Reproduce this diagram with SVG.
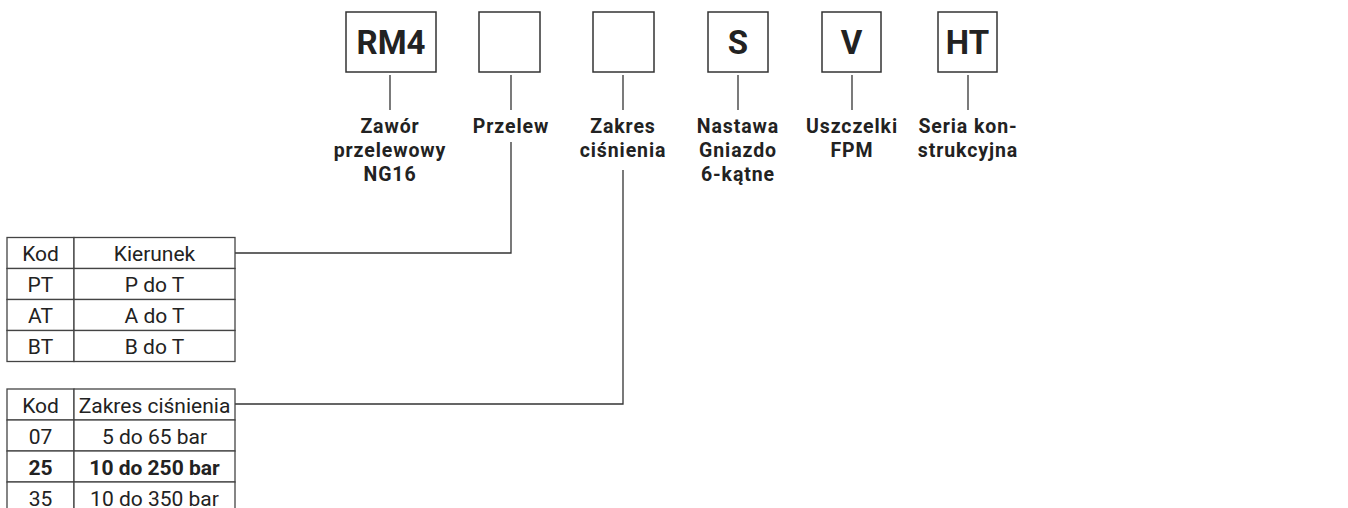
<svg xmlns="http://www.w3.org/2000/svg" width="1348" height="508" viewBox="0 0 1348 508">
<style>
.box{fill:#fff;stroke:#333;stroke-width:1.5}
.bt{font-family:Roboto,"Liberation Sans",sans-serif;font-weight:700;font-size:33px;fill:#222;text-anchor:middle}
.lb{font-family:Roboto,"Liberation Sans",sans-serif;font-weight:700;font-size:19.5px;letter-spacing:0.9px;fill:#222;text-anchor:middle}
.ln{fill:none;stroke:#333;stroke-width:1.3}
.tb{fill:#fff;stroke:#444;stroke-width:1.3}
.tt{font-family:Roboto,"Liberation Sans",sans-serif;font-size:21px;fill:#222;text-anchor:middle}
.tt.b{font-weight:700}
</style>
<rect width="1348" height="508" fill="#fff"/>
<g id="connectors">
<path class="ln" d="M390 75V110"/>
<path class="ln" d="M511 75V110"/>
<path class="ln" d="M623 75V110"/>
<path class="ln" d="M738 75V110"/>
<path class="ln" d="M852 75V110"/>
<path class="ln" d="M968 75V110"/>
<path class="ln" d="M511 142V253H235"/>
<path class="ln" d="M623 170V404H235"/>
</g>
<g id="n-rm4"><rect class="box" x="346" y="12" width="90" height="60"/><text class="bt" x="391" y="54">RM4</text></g>
<g id="n-przelew-box"><rect class="box" x="479" y="12" width="61" height="60"/></g>
<g id="n-zakres-box"><rect class="box" x="593" y="12" width="61" height="60"/></g>
<g id="n-s"><rect class="box" x="708" y="12" width="60" height="60"/><text class="bt" x="738" y="54">S</text></g>
<g id="n-v"><rect class="box" x="822" y="12" width="59" height="60"/><text class="bt" x="851.5" y="54">V</text></g>
<g id="n-ht"><rect class="box" x="938" y="12" width="59" height="60"/><text class="bt" x="967.5" y="54">HT</text></g>
<g id="l-zawor"><text class="lb" x="390" y="133">Zawór</text><text class="lb" x="390" y="157">przelewowy</text><text class="lb" x="390" y="181">NG16</text></g>
<g id="l-przelew"><text class="lb" x="511" y="133">Przelew</text></g>
<g id="l-zakres"><text class="lb" x="623" y="133">Zakres</text><text class="lb" x="623" y="157">ciśnienia</text></g>
<g id="l-nastawa"><text class="lb" x="738" y="133">Nastawa</text><text class="lb" x="738" y="157">Gniazdo</text><text class="lb" x="738" y="181">6-kątne</text></g>
<g id="l-uszczelki"><text class="lb" x="852" y="133">Uszczelki</text><text class="lb" x="852" y="157">FPM</text></g>
<g id="l-seria"><text class="lb" x="968" y="133">Seria kon-</text><text class="lb" x="968" y="157">strukcyjna</text></g>
<g id="t-kierunek">
<rect class="tb" x="7" y="237.5" width="67" height="31"/><rect class="tb" x="74" y="237.5" width="161" height="31"/>
<rect class="tb" x="7" y="268.5" width="67" height="31"/><rect class="tb" x="74" y="268.5" width="161" height="31"/>
<rect class="tb" x="7" y="299.5" width="67" height="31"/><rect class="tb" x="74" y="299.5" width="161" height="31"/>
<rect class="tb" x="7" y="330.5" width="67" height="31"/><rect class="tb" x="74" y="330.5" width="161" height="31"/>
<text class="tt" x="40.5" y="261">Kod</text><text class="tt" x="154.5" y="261">Kierunek</text>
<text class="tt" x="40.5" y="292">PT</text><text class="tt" x="154.5" y="292">P do T</text>
<text class="tt" x="40.5" y="323">AT</text><text class="tt" x="154.5" y="323">A do T</text>
<text class="tt" x="40.5" y="354">BT</text><text class="tt" x="154.5" y="354">B do T</text>
</g>
<g id="t-zakres">
<rect class="tb" x="7" y="389" width="67" height="31"/><rect class="tb" x="74" y="389" width="161" height="31"/>
<rect class="tb" x="7" y="420" width="67" height="31"/><rect class="tb" x="74" y="420" width="161" height="31"/>
<rect class="tb" x="7" y="451" width="67" height="31"/><rect class="tb" x="74" y="451" width="161" height="31"/>
<rect class="tb" x="7" y="482" width="67" height="31"/><rect class="tb" x="74" y="482" width="161" height="31"/>
<text class="tt" x="40.5" y="412.5">Kod</text><text class="tt" x="154.5" y="412.5">Zakres ciśnienia</text>
<text class="tt" x="40.5" y="443.5">07</text><text class="tt" x="154.5" y="443.5">5 do 65 bar</text>
<text class="tt b" x="40.5" y="474.5">25</text><text class="tt b" x="154.5" y="474.5">10 do 250 bar</text>
<text class="tt" x="40.5" y="505.5">35</text><text class="tt" x="154.5" y="505.5">10 do 350 bar</text>
</g>
</svg>
